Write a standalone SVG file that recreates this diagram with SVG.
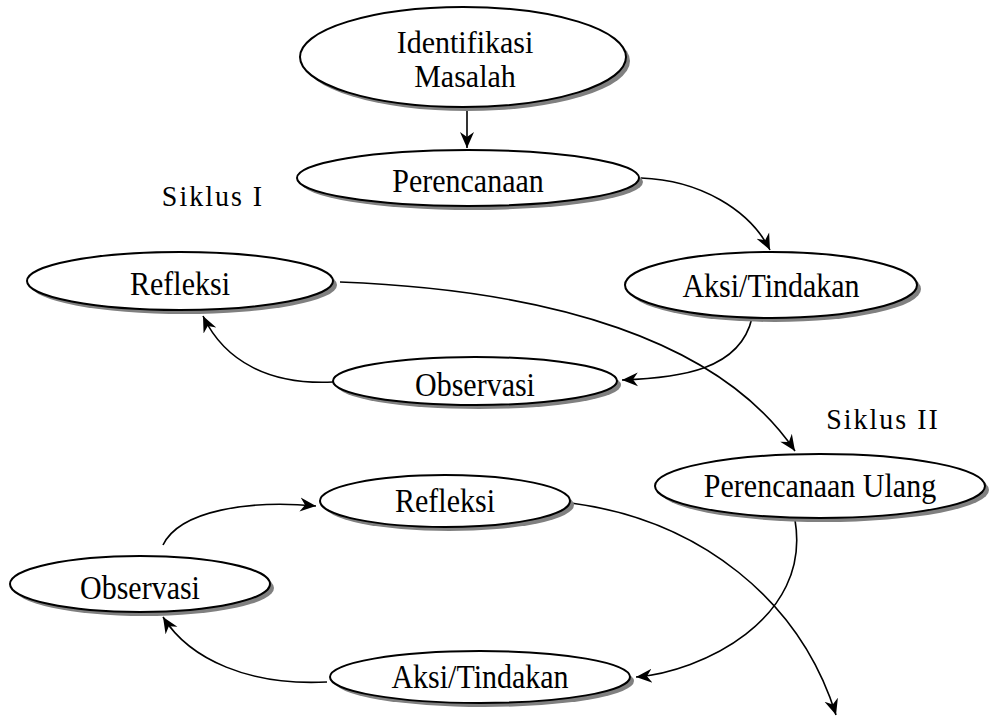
<svg xmlns="http://www.w3.org/2000/svg" width="989" height="717" viewBox="0 0 989 717">
<defs>
<marker id="arr" viewBox="-16 -8 18 16" refX="0" refY="0" markerWidth="18" markerHeight="16" markerUnits="userSpaceOnUse" orient="auto">
<path d="M0,0 L-16,-7 L-11,0 L-16,7 Z" fill="#000"/>
</marker>
</defs>
<style>
.sh{fill:#808080;stroke:none}
.el{fill:#fff;stroke:#000;stroke-width:2}
.t{font-family:"Liberation Serif","Times New Roman",serif;font-size:30px;fill:#000;text-anchor:middle}
.s{font-family:"Liberation Serif","Times New Roman",serif;font-size:28px;fill:#000;text-anchor:middle;letter-spacing:2px}
.c{fill:none;stroke:#000;stroke-width:1.6;marker-end:url(#arr)}
</style>
<rect width="989" height="717" fill="#fff"/>
<g id="connectors">
<path class="c" d="M467,108 L467,148"/>
<path class="c" d="M641,178 C700,180 750,210 770,250"/>
<path class="c" d="M752,318 C740,370 680,378 622,380"/>
<path class="c" d="M333,382 C270,385 225,362 203,316"/>
<path class="c" d="M340,282 C550,290 720,340 795,451"/>
<path class="c" d="M795,520 C812,620 700,672 636,677"/>
<path class="c" d="M327,682 C250,686 190,660 163,617"/>
<path class="c" d="M163,545 C180,510 250,500 316,506"/>
<path class="c" d="M571,503 C700,520 800,600 836,715"/>
</g>
<g id="n1"><ellipse class="sh" cx="467" cy="61" rx="163" ry="50"/><ellipse class="el" cx="463" cy="57" rx="163" ry="50"/><text class="t" transform="translate(465,53) scale(1,1.08)">Identifikasi</text><text class="t" transform="translate(465,87) scale(1,1.08)">Masalah</text></g>
<g id="n2"><ellipse class="sh" cx="472" cy="182" rx="171" ry="28"/><ellipse class="el" cx="468" cy="178" rx="171" ry="28"/><text class="t" transform="translate(468,192) scale(1,1.15)">Perencanaan</text></g>
<g id="n3"><ellipse class="sh" cx="775" cy="289" rx="146" ry="33"/><ellipse class="el" cx="771" cy="285" rx="146" ry="33"/><text class="t" transform="translate(771,297) scale(1,1.15)">Aksi/Tindakan</text></g>
<g id="n4"><ellipse class="sh" cx="184" cy="285" rx="153" ry="29"/><ellipse class="el" cx="180" cy="281" rx="153" ry="29"/><text class="t" transform="translate(180,295) scale(1,1.15)">Refleksi</text></g>
<g id="n5"><ellipse class="sh" cx="479" cy="385" rx="142" ry="24"/><ellipse class="el" cx="475" cy="381" rx="142" ry="24"/><text class="t" transform="translate(475,396) scale(1,1.15)">Observasi</text></g>
<g id="n6"><ellipse class="sh" cx="824" cy="490" rx="165" ry="32"/><ellipse class="el" cx="820" cy="486" rx="165" ry="32"/><text class="t" transform="translate(820,497) scale(1,1.15)">Perencanaan Ulang</text></g>
<g id="n7"><ellipse class="sh" cx="449" cy="505" rx="125" ry="26"/><ellipse class="el" cx="445" cy="501" rx="125" ry="26"/><text class="t" transform="translate(445,512) scale(1,1.15)">Refleksi</text></g>
<g id="n8"><ellipse class="sh" cx="144" cy="588" rx="130" ry="28"/><ellipse class="el" cx="140" cy="584" rx="130" ry="28"/><text class="t" transform="translate(140,599) scale(1,1.15)">Observasi</text></g>
<g id="n9"><ellipse class="sh" cx="484" cy="681" rx="150" ry="26"/><ellipse class="el" cx="480" cy="677" rx="150" ry="26"/><text class="t" transform="translate(480,688) scale(1,1.15)">Aksi/Tindakan</text></g>
<g id="labels">
<text class="s" transform="translate(213,206) scale(1,1.05)">Siklus I</text>
<text class="s" transform="translate(883,429) scale(1,1.05)">Siklus II</text>
</g>
</svg>
